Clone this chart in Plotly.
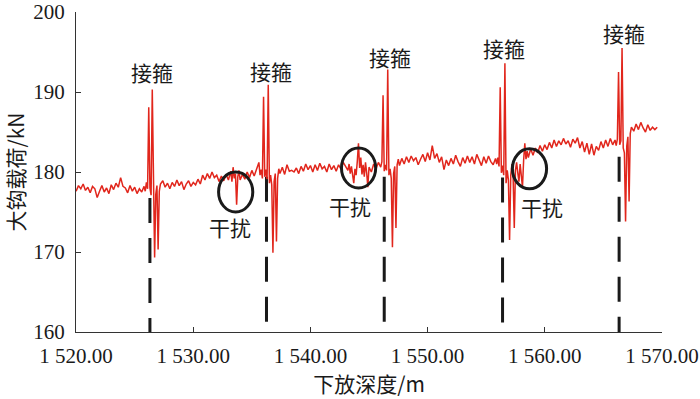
import plotly.graph_objects as go

# ---------------- data ----------------
DEPTH = [
    1520.0, 1520.2, 1520.4, 1520.6, 1520.8, 1521.0, 1521.2, 1521.4, 1521.6, 1521.8,
    1522.0, 1522.2, 1522.4, 1522.6, 1522.8, 1523.0, 1523.2, 1523.4, 1523.6, 1523.8,
    1524.0, 1524.2, 1524.4, 1524.6, 1524.8, 1525.0, 1525.2, 1525.4, 1525.6,
    1525.8, 1525.9, 1526.0, 1526.1, 1526.2, 1526.3, 1526.4, 1526.5, 1526.6, 1526.7,
    1526.8, 1526.9, 1527.0, 1527.1, 1527.2,
    1527.4, 1527.6, 1527.8, 1528.0, 1528.2, 1528.4, 1528.6, 1528.8, 1529.0, 1529.2,
    1529.4, 1529.6, 1529.8, 1530.0, 1530.2, 1530.4, 1530.6, 1530.8, 1531.0, 1531.2,
    1531.4, 1531.6, 1531.8, 1532.0, 1532.2, 1532.4, 1532.6, 1532.8, 1533.0, 1533.2,
    1533.3, 1533.4, 1533.5, 1533.6, 1533.7, 1533.8, 1533.9, 1534.0,
    1534.2, 1534.4, 1534.6, 1534.8, 1535.0, 1535.2, 1535.4, 1535.6,
    1535.7, 1535.8, 1535.9, 1536.0, 1536.1, 1536.2, 1536.3, 1536.4, 1536.5, 1536.6,
    1536.7, 1536.8, 1536.9, 1537.0, 1537.1, 1537.2, 1537.3, 1537.4,
    1537.6, 1537.8, 1538.0, 1538.2, 1538.4, 1538.6, 1538.8, 1539.0, 1539.2, 1539.4,
    1539.6, 1539.8, 1540.0, 1540.2, 1540.4, 1540.6, 1540.8, 1541.0, 1541.2, 1541.4,
    1541.6, 1541.8, 1542.0, 1542.2, 1542.4, 1542.6, 1542.8, 1543.0,
    1543.2, 1543.3, 1543.4, 1543.5, 1543.6, 1543.7, 1543.8, 1543.9, 1544.0, 1544.1,
    1544.2, 1544.3, 1544.4, 1544.5, 1544.6, 1544.7, 1544.8, 1544.9, 1545.0,
    1545.2, 1545.4, 1545.6, 1545.8, 1546.0,
    1546.1, 1546.2, 1546.3, 1546.4, 1546.5, 1546.6, 1546.7, 1546.8, 1546.9, 1547.0,
    1547.1, 1547.2, 1547.3, 1547.4, 1547.5,
    1547.6, 1547.8, 1548.0, 1548.2, 1548.4, 1548.6, 1548.8, 1549.0, 1549.2, 1549.4,
    1549.6, 1549.8, 1550.0, 1550.2, 1550.4, 1550.6, 1550.8, 1551.0, 1551.2, 1551.4,
    1551.6, 1551.8, 1552.0, 1552.2, 1552.4, 1552.6, 1552.8, 1553.0, 1553.2, 1553.4,
    1553.6, 1553.8, 1554.0, 1554.2, 1554.4, 1554.6, 1554.8, 1555.0, 1555.2, 1555.4,
    1555.6, 1555.8,
    1555.9, 1556.0, 1556.1, 1556.2, 1556.3, 1556.4, 1556.5, 1556.6, 1556.7, 1556.8,
    1556.9, 1557.0, 1557.1, 1557.2, 1557.3, 1557.4, 1557.5,
    1557.6, 1557.7, 1557.8, 1557.9, 1558.0, 1558.1, 1558.2, 1558.3, 1558.4, 1558.5,
    1558.6, 1558.8, 1559.0, 1559.2, 1559.4, 1559.6, 1559.8, 1560.0,
    1560.2, 1560.4, 1560.6, 1560.8, 1561.0, 1561.2, 1561.4, 1561.6, 1561.8, 1562.0,
    1562.2, 1562.4, 1562.6, 1562.8, 1563.0, 1563.2, 1563.4, 1563.6, 1563.8, 1564.0,
    1564.2, 1564.4, 1564.6, 1564.8, 1565.0, 1565.2, 1565.4, 1565.6, 1565.8, 1566.0,
    1566.1, 1566.2, 1566.3, 1566.4, 1566.5, 1566.6, 1566.7, 1566.8, 1566.9, 1567.0,
    1567.1, 1567.2, 1567.3, 1567.4,
    1567.6, 1567.8, 1568.0, 1568.2, 1568.4, 1568.6, 1568.8, 1569.0, 1569.2, 1569.4,
    1569.6,
]

HOOK_LOAD = [
    177.6, 178.3, 177.9, 178.5, 177.7, 178.1, 177.4, 178.2, 177.9, 176.8,
    177.6, 178.3, 177.5, 178.0, 177.3, 178.4, 177.8, 178.6, 178.1, 179.3,
    178.2, 178.0, 177.4, 178.3, 177.6, 178.1, 177.3, 177.9, 177.5,
    178.2, 177.6, 178.7, 177.9, 188.1, 178.0, 177.1, 190.3, 177.4, 169.3,
    177.2, 178.3, 170.3, 177.6, 178.5,
    178.9, 178.1, 178.6, 177.9, 178.7, 178.2, 179.0, 178.3, 178.8, 177.8,
    178.5, 178.9, 178.2, 178.7, 178.4, 179.1, 178.5, 179.6, 179.0, 179.8,
    179.2, 180.0, 179.3, 179.6, 178.8, 179.5, 178.9, 179.7, 179.0, 180.1,
    178.8, 180.6, 179.2, 179.8, 175.9, 179.4, 180.2, 179.0,
    179.7, 179.1, 180.0, 179.3, 180.2, 179.5, 180.4, 181.2,
    179.6, 180.3, 179.2, 189.4, 179.4, 180.3, 179.1, 190.9, 178.6, 179.6,
    178.4, 169.9, 178.8, 179.8, 171.3, 179.2, 180.4, 179.8,
    180.6, 179.7, 180.9, 180.1, 180.2, 180.0, 180.5, 179.8, 180.7, 180.1,
    181.0, 180.3, 180.8, 180.0, 180.9, 180.2, 181.1, 180.4, 180.7, 180.0,
    181.0, 180.3, 180.8, 180.1, 180.9, 180.4, 181.2, 180.6,
    180.2, 181.0, 179.8, 180.7, 179.5, 178.6, 180.4, 179.6, 181.3, 183.6,
    180.5, 181.8, 179.7, 180.9, 179.4, 181.2, 179.9, 178.1, 180.6,
    180.0, 181.0, 180.4, 181.2, 180.6,
    181.3, 189.6, 180.1, 180.9, 180.2, 192.8, 179.6, 180.4, 179.2, 170.6,
    179.8, 180.7, 173.0, 180.9, 181.6,
    180.8, 181.7, 181.0, 181.9, 181.2, 182.0, 181.4, 181.8, 180.9, 181.6,
    182.2, 181.3, 182.4, 181.5, 183.3, 181.7, 182.3, 181.2, 181.9, 180.3,
    181.5, 180.8, 181.7, 181.0, 182.1, 181.3, 180.7, 181.8, 181.1, 182.0,
    181.2, 181.9, 181.0, 182.2, 181.4, 180.8, 181.9, 181.1, 182.0, 181.3,
    180.9, 181.7,
    181.0, 181.8, 180.7, 190.6, 179.9, 180.8, 179.6, 193.6, 178.6, 180.2,
    179.0, 171.5, 179.6, 181.0, 179.5, 173.0, 180.2,
    181.2, 179.9, 178.8, 181.0, 179.6, 178.1, 181.5, 183.6, 181.6, 182.6,
    181.8, 182.9, 182.1, 183.0, 182.4, 183.3, 182.6, 183.4,
    182.8, 183.7, 183.0, 184.0, 183.2, 183.9, 183.4, 184.2, 183.5, 183.9,
    183.1, 184.1, 183.6, 184.3, 183.0, 183.8, 182.5, 183.6, 182.2, 183.5,
    182.1, 183.2, 182.7, 183.8, 183.0, 184.0, 183.2, 184.2, 183.4, 184.0,
    183.3, 184.1, 192.5, 183.4, 183.9, 195.5, 183.0, 182.4, 173.8, 183.2,
    184.4, 176.3, 184.8, 185.6,
    185.1, 186.0, 185.3, 186.2, 185.5, 185.0, 185.9, 185.2, 185.6, 185.3,
    185.6,
]

# coupling (collar) depths and the top of their marker lines
COLLAR_DEPTH = [1526.3, 1536.25, 1546.3, 1556.4, 1566.35]
COLLAR_MARK_TOP = [176.75, 179.4, 179.4, 179.3, 181.9]
COLLAR_LABEL = "接箍"

# interference spots
INTERFERENCE_DEPTH = [1533.62, 1544.11, 1558.7]
INTERFERENCE_LOAD = [177.5, 180.5, 180.4]
INTERFERENCE_LABEL = "干扰"

X_TICKS = [1520, 1530, 1540, 1550, 1560, 1570]
X_TICK_LABELS = ["1 520.00", "1 530.00", "1 540.00", "1 550.00", "1 560.00", "1 570.00"]
Y_TICKS = [160, 170, 180, 190, 200]

X_TITLE = "下放深度/m"
Y_TITLE = "大钩载荷/kN"

# ---------------- figure ----------------
SERIF = "Liberation Serif, Times New Roman, serif"
CJK = "Noto Sans CJK SC, sans-serif"
INK = "#1a1a1a"

fig = go.Figure()

for d, top in zip(COLLAR_DEPTH, COLLAR_MARK_TOP):
    fig.add_trace(go.Scatter(
        x=[d, d], y=[top, 160], mode="lines",
        line=dict(color=INK, width=3, dash="25px,15px"),
        hoverinfo="skip", showlegend=False,
    ))

fig.add_trace(go.Scatter(
    x=DEPTH, y=HOOK_LOAD, mode="lines",
    line=dict(color="#e1261c", width=1.5),
    showlegend=False,
))

# collar labels above the spikes
label_offsets = [(0.2, 192.5), (0.35, 192.6), (0.5, 194.4), (0.15, 195.5), (0.45, 197.4)]
for d, (dx, ly) in zip(COLLAR_DEPTH, label_offsets):
    fig.add_annotation(x=d + dx, y=ly, text=COLLAR_LABEL, showarrow=False,
                       font=dict(family=CJK, size=21, color=INK),
                       xanchor="center", yanchor="middle")

# interference circles + labels
rx, ry = 1.46, 2.5
label_pos = [(-0.5, 173.1), (-0.7, 175.75), (1.1, 175.6)]
for d, v, (dx, ly) in zip(INTERFERENCE_DEPTH, INTERFERENCE_LOAD, label_pos):
    fig.add_shape(type="circle", xref="x", yref="y",
                  x0=d - rx, x1=d + rx, y0=v - ry, y1=v + ry,
                  line=dict(color=INK, width=3))
    fig.add_annotation(x=d + dx, y=ly, text=INTERFERENCE_LABEL, showarrow=False,
                       font=dict(family=CJK, size=21, color=INK),
                       xanchor="center", yanchor="middle")

axis_common = dict(
    showline=True, linecolor="#333", linewidth=1,
    ticks="inside", ticklen=5, tickcolor="#333", tickwidth=1,
    showgrid=False, zeroline=False, automargin=False,
    tickfont=dict(family=SERIF, size=21, color=INK),
)

fig.update_layout(
    width=700, height=399,
    margin=dict(l=76, r=38, t=12, b=67),
    paper_bgcolor="white", plot_bgcolor="white",
    xaxis=dict(range=[1519.99, 1570.01], tickvals=X_TICKS, ticktext=X_TICK_LABELS,
               ticklabelstandoff=5,
               title=dict(text=X_TITLE, font=dict(family=CJK, size=21, color=INK), standoff=9),
               **axis_common),
    yaxis=dict(range=[160, 200], tickvals=Y_TICKS,
               ticklabelstandoff=6,
               title=dict(text=Y_TITLE, font=dict(family=CJK, size=21, color=INK), standoff=3),
               **axis_common),
)

fig.write_html("out.html", config={"displayModeBar": False},
               post_script="document.body.style.margin='0';document.body.style.overflow='hidden';")
